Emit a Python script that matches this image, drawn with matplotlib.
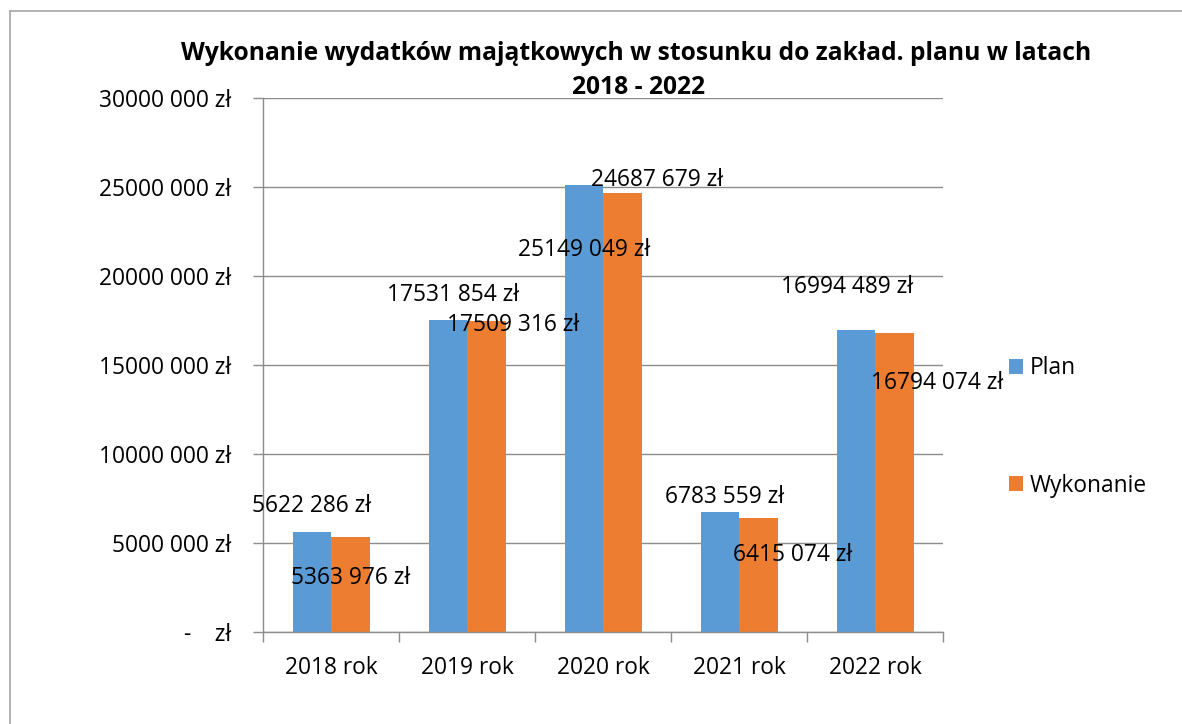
import matplotlib
matplotlib.use("Agg")
import matplotlib.pyplot as plt
from matplotlib.lines import Line2D
import numpy as np

categories = ["2018 rok", "2019 rok", "2020 rok", "2021 rok", "2022 rok"]
plan = [5622286, 17531854, 25149049, 6783559, 16994489]
wykonanie = [5363976, 17509316, 24687679, 6415074, 16794074]
plan_labels = ["5622 286 zł", "17531 854 zł", "25149 049 zł", "6783 559 zł", "16994 489 zł"]
wyk_labels = ["5363 976 zł", "17509 316 zł", "24687 679 zł", "6415 074 zł", "16794 074 zł"]
yticks = [0, 5000000, 10000000, 15000000, 20000000, 25000000, 30000000]
ytick_labels = ["-    zł", "5000 000 zł", "10000 000 zł", "15000 000 zł",
                "20000 000 zł", "25000 000 zł", "30000 000 zł"]
title_line1 = "Wykonanie wydatków majątkowych w stosunku do zakład. planu w latach"
title_line2 = "2018 - 2022"

# label offsets (pixels, +x right, +y down) relative to bar top centre
plan_off = [(0, -26), (5, -25), (0, 65), (5, -15), (-9, -43)]
wyk_off = [(0, 41), (27, 4), (35, -13), (34, 37), (43, 50)]

plt.rcParams['font.family'] = ['Open Sans', 'DejaVu Sans']
FS = 16.4
BLUE = "#5B9BD5"
ORANGE = "#ED7D31"
GRID = "#8C8C8C"

fig = plt.figure(figsize=(11.82, 7.24), dpi=100)
ax = fig.add_axes([263.3 / 1182, (724 - 632.3) / 724, 680 / 1182, (632.3 - 98.3) / 724])

x = np.arange(len(categories))
w = 0.283
b1 = ax.bar(x - w / 2, plan, w, color=BLUE, label="Plan", zorder=3)
b2 = ax.bar(x + w / 2, wykonanie, w, color=ORANGE, label="Wykonanie", zorder=3)

ax.set_xlim(-0.5, len(categories) - 0.5)
ax.set_ylim(0, 30000000)
ax.set_yticks(yticks)
ax.set_yticklabels(ytick_labels, fontsize=FS)
ax.set_xticks(x)
ax.set_xticklabels(categories, fontsize=FS)
ax.set_xticks(np.arange(-0.5, len(categories), 1), minor=True)
ax.tick_params(axis='x', which='major', length=0, pad=17)
ax.tick_params(axis='x', which='minor', length=7, color=GRID, width=1)
ax.tick_params(axis='y', length=7, color=GRID, width=1, pad=16)

ax.grid(axis='y', color=GRID, linewidth=1, zorder=0)
for s in ['top', 'right']:
    ax.spines[s].set_visible(False)
for s in ['left', 'bottom']:
    ax.spines[s].set_color(GRID)
    ax.spines[s].set_linewidth(1)
    ax.spines[s].set_zorder(4)

px2pt = 72 / 100
for i in range(len(categories)):
    dx, dy = plan_off[i]
    ax.annotate(plan_labels[i], (x[i] - w / 2, plan[i]), xytext=(dx * px2pt, -dy * px2pt),
                textcoords='offset points', ha='center', va='center', fontsize=FS, zorder=5)
    dx, dy = wyk_off[i]
    ax.annotate(wyk_labels[i], (x[i] + w / 2, wykonanie[i]), xytext=(dx * px2pt, -dy * px2pt),
                textcoords='offset points', ha='center', va='center', fontsize=FS, zorder=5)

fig.text(636 / 1182, 1 - 53 / 724, title_line1, ha='center', va='center', fontsize=17.7,
         fontweight='bold')
fig.text(638 / 1182, 1 - 87 / 724, title_line2, ha='center', va='center', fontsize=17.7,
         fontweight='bold')

# legend
leg = fig.legend(handles=[b1, b2], loc='center left', bbox_to_anchor=(988 / 1182, 1 - 427 / 724),
                 frameon=False, fontsize=FS, handlelength=0.65, handleheight=0.65,
                 handletextpad=0.3, labelspacing=4.1)

# border
fig.add_artist(Line2D([10 / 1182, 10 / 1182], [0, 1 - 11 / 724], color="#A6A6A6", linewidth=1.2,
                      transform=fig.transFigure))
fig.add_artist(Line2D([10 / 1182, 1], [1 - 11 / 724, 1 - 11 / 724], color="#A6A6A6", linewidth=1.2,
                      transform=fig.transFigure))

fig.savefig("out.png", dpi=100)
